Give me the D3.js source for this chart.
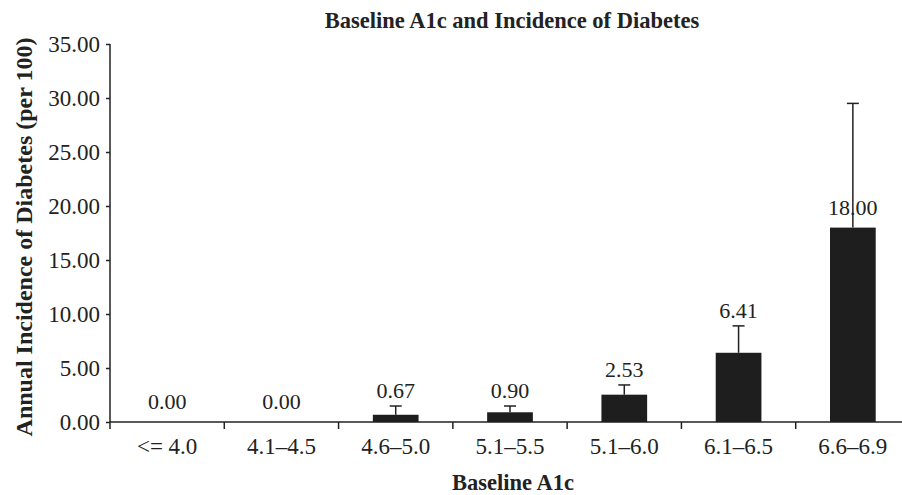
<!DOCTYPE html>
<html>
<head>
<meta charset="utf-8">
<script src="https://cdn.jsdelivr.net/npm/d3@7"></script>
<style>
  body { margin: 0; background: #fff; }
  svg { display: block; }
  text { font-family: "Liberation Serif", "Times New Roman", serif; fill: #222; }
</style>
</head>
<body>
<div class="container"></div>
<script>
const categories = ['<= 4.0', '4.1\u20134.5', '4.6\u20135.0', '5.1\u20135.5', '5.1\u20136.0', '6.1\u20136.5', '6.6\u20136.9']
const values = [0.00, 0.00, 0.67, 0.90, 2.53, 6.41, 18.00]
const errUpper = [0.00, 0.00, 1.48, 1.48, 3.43, 8.90, 29.50]
const yTicks = [0, 5, 10, 15, 20, 25, 30, 35]

const W = 902, H = 495
const margin = {top: 44, left: 110, right: -8, bottom: 73}

const svg = d3.select('.container')
    .append('svg')
    .attr('width', W)
    .attr('height', H)

const xScale = d3.scaleBand()
    .domain(categories)
    .range([margin.left, W - margin.right])
    .paddingInner(0)
    .paddingOuter(0)

const yScale = d3.scaleLinear()
    .domain([0, 35])
    .range([H - margin.bottom, margin.top])

// y axis
const yAxis = svg.append('g')
    .attr('transform', `translate(${margin.left},0)`)
    .call(d3.axisLeft(yScale)
        .tickValues(yTicks)
        .tickSize(4)
        .tickPadding(6)
        .tickFormat(d3.format('.2f')))
yAxis.select('.domain').attr('stroke', '#222').attr('stroke-width', 1.5)
    .attr('d', `M0,${yScale(35)}V${yScale(0) + 7}`)
yAxis.selectAll('.tick line').attr('stroke', '#222').attr('stroke-width', 1.5)
yAxis.selectAll('.tick text')
    .style('font-size', '23px')
    .style('font-family', '"Liberation Serif", serif')
    .attr('fill', '#222')

// x axis, ticks at band edges
const xAxis = svg.append('g')
    .attr('transform', `translate(0,${yScale(0)})`)
xAxis.append('line')
    .attr('x1', margin.left)
    .attr('x2', W - margin.right)
    .attr('stroke', '#222')
    .attr('stroke-width', 1.5)
xAxis.selectAll('.edge')
    .data(categories.slice(1))
    .enter()
    .append('line')
    .attr('x1', d => xScale(d))
    .attr('x2', d => xScale(d))
    .attr('y1', 0)
    .attr('y2', 7)
    .attr('stroke', '#222')
    .attr('stroke-width', 1.5)
xAxis.selectAll('.cat')
    .data(categories)
    .enter()
    .append('text')
    .attr('x', d => xScale(d) + xScale.bandwidth() / 2)
    .attr('y', 32)
    .attr('text-anchor', 'middle')
    .style('font-size', '23px')
    .text(d => d)

// bars
const bw = xScale.bandwidth() * 0.4
const data = categories.map((c, i) => ({c, v: values[i], e: errUpper[i]}))

svg.selectAll('.bar')
    .data(data.filter(d => d.v > 0))
    .enter()
    .append('rect')
    .attr('x', d => xScale(d.c) + xScale.bandwidth() / 2 - bw / 2)
    .attr('y', d => yScale(d.v))
    .attr('width', bw)
    .attr('height', d => yScale(0) - yScale(d.v))
    .attr('fill', '#1e1e1e')

// labels
svg.selectAll('.lbl')
    .data(data)
    .enter()
    .append('text')
    .attr('x', d => xScale(d.c) + xScale.bandwidth() / 2)
    .attr('y', d => {
        const byBar = yScale(d.v) - 13
        const byErr = yScale(d.e) - 8
        return (d.e - d.v > 5) ? byBar : Math.min(byBar, byErr)
    })
    .attr('text-anchor', 'middle')
    .style('font-size', '22px')
    .text(d => d.v.toFixed(2))

// error bars (upper only), drawn over labels
const err = svg.selectAll('.err')
    .data(data.filter(d => d.e > d.v))
    .enter()
    .append('g')
err.append('line')
    .attr('x1', d => xScale(d.c) + xScale.bandwidth() / 2)
    .attr('x2', d => xScale(d.c) + xScale.bandwidth() / 2)
    .attr('y1', d => yScale(d.v))
    .attr('y2', d => yScale(d.e))
    .attr('stroke', '#222')
    .attr('stroke-width', 1.5)
err.append('line')
    .attr('x1', d => xScale(d.c) + xScale.bandwidth() / 2 - 6)
    .attr('x2', d => xScale(d.c) + xScale.bandwidth() / 2 + 6)
    .attr('y1', d => yScale(d.e))
    .attr('y2', d => yScale(d.e))
    .attr('stroke', '#222')
    .attr('stroke-width', 1.5)

// titles
svg.append('text')
    .attr('x', 512)
    .attr('y', 28)
    .attr('text-anchor', 'middle')
    .style('font-size', '22.5px')
    .style('font-weight', 'bold')
    .text('Baseline A1c and Incidence of Diabetes')

svg.append('text')
    .attr('x', 513)
    .attr('y', 490)
    .attr('text-anchor', 'middle')
    .style('font-size', '22.5px')
    .style('font-weight', 'bold')
    .text('Baseline A1c')

svg.append('text')
    .attr('transform', 'translate(32,237) rotate(-90)')
    .attr('text-anchor', 'middle')
    .style('font-size', '24px')
    .style('font-weight', 'bold')
    .text('Annual Incidence of Diabetes (per 100)')
</script>
</body>
</html>
